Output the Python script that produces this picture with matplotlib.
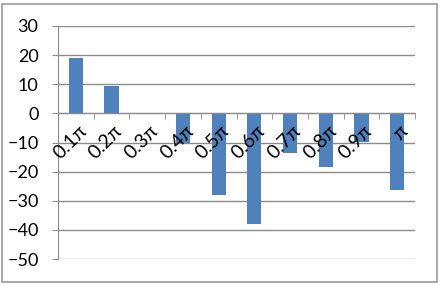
import numpy as np
import matplotlib.pyplot as plt
from matplotlib.patches import Rectangle
from matplotlib.ticker import FixedLocator

plt.rcParams['font.family'] = ['Lato', 'DejaVu Sans']

labels = ['0.1π', '0.2π', '0.3π', '0.4π', '0.5π', '0.6π', '0.7π', '0.8π', '0.9π', 'π']
values = [19, 9.4, 0, -10, -28, -38, -13.7, -18.3, -9.7, -26.4]
yticks = [-50, -40, -30, -20, -10, 0, 10, 20, 30]

fig = plt.figure(figsize=(4.42, 2.86), dpi=100)
ax = fig.add_axes([58/442, 27/286, 357/442, 233/286])

# outer chart border
fig.patches.append(Rectangle((2/442, 4/286), 435/442, 278/286, transform=fig.transFigure,
                             fill=False, edgecolor='#999999', linewidth=1.2))

x = np.arange(len(values))
for yv in yticks:
    ax.axhline(yv, color='#8c8c8c', linewidth=1.0, zorder=1)
ax.bar(x, values, width=0.4, color='#4F81BD', zorder=3)

ax.set_xlim(-0.5, len(values) - 0.5)
ax.set_ylim(-50, 30)
ax.set_yticks(yticks)

for s in ['top', 'right']:
    ax.spines[s].set_visible(False)
ax.spines['left'].set_color('#8c8c8c')
ax.spines['bottom'].set_position(('data', 0))
ax.spines['bottom'].set_color('#8c8c8c')
ax.spines['bottom'].set_zorder(4)

# category labels sit on top of the bars, like excel
ax.set_xticks([])
ax.xaxis.set_minor_locator(FixedLocator(np.arange(0.5, len(values), 1.0)))
ax.tick_params(axis='x', which='minor', length=4, color='#8c8c8c', direction='out')
ax.tick_params(axis='y', length=4, color='#8c8c8c', pad=10, labelsize=13)
for i, lab in enumerate(labels):
    ax.annotate(lab, (i, 0), xytext=(1.5, -6.5), textcoords='offset points',
                rotation=45, ha='right', va='top', rotation_mode='anchor',
                fontsize=14, zorder=6)

fig.savefig('out.png', dpi=100)
